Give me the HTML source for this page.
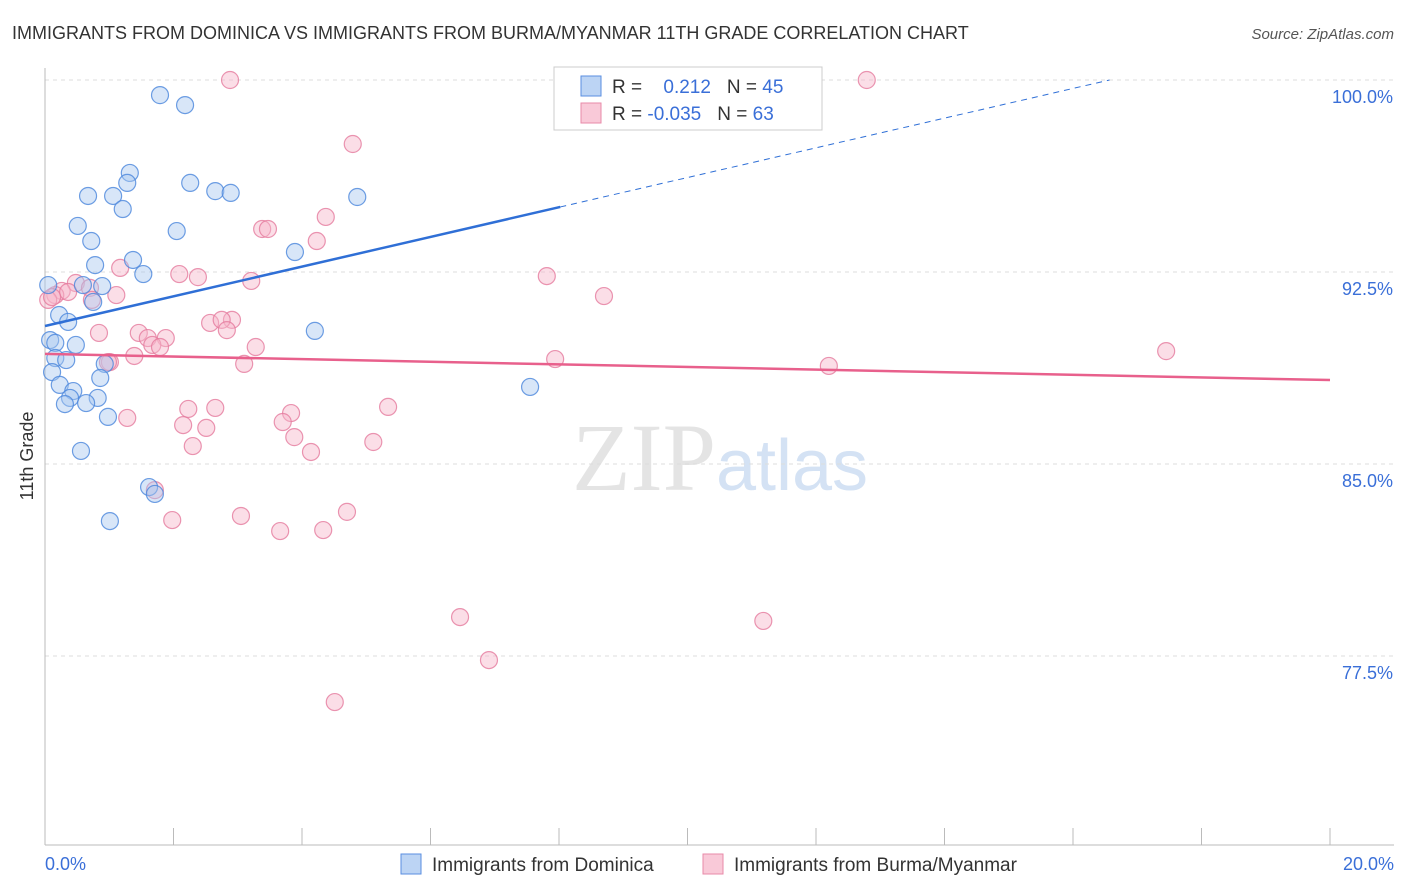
<!DOCTYPE html>
<html><head><meta charset="utf-8">
<style>
body{margin:0;background:#fff;font-family:"Liberation Sans",sans-serif;}
</style></head>
<body>
<svg id="chart" width="1406" height="892" xmlns="http://www.w3.org/2000/svg" style="display:block">
<text x="12" y="39" font-size="18" fill="#333">IMMIGRANTS FROM DOMINICA VS IMMIGRANTS FROM BURMA/MYANMAR 11TH GRADE CORRELATION CHART</text>
<text x="1394" y="39" font-size="15" fill="#555" text-anchor="end" font-style="italic">Source: ZipAtlas.com</text>
<text x="720" y="490" font-size="96" text-anchor="middle" fill="#e4e4e4" font-family="Liberation Serif, serif">ZIP<tspan fill="#d4e2f4" font-family="Liberation Sans, sans-serif" font-size="72">atlas</tspan></text>
<text transform="translate(33,456) rotate(-90)" font-size="18" fill="#333" text-anchor="middle">11th Grade</text>
<g id="grid"></g>
<g id="axes"></g>
<g id="marks"></g>
<g id="trends"></g>
<g>
<rect x="554" y="67" width="268" height="63" fill="#fff" stroke="#ccc"/>
<rect x="581" y="76" width="20" height="20" fill="#bcd4f4" stroke="#5a8ee0"/>
<rect x="581" y="103" width="20" height="20" fill="#f9c9d8" stroke="#e88aa8"/>
<text x="612" y="93" font-size="19" fill="#333">R = <tspan fill="#3a6fd8" dx="16">0.212</tspan><tspan dx="16" fill="#333">N = </tspan><tspan fill="#3a6fd8">45</tspan></text>
<text x="612" y="120" font-size="19" fill="#333">R = <tspan fill="#3a6fd8">-0.035</tspan><tspan dx="16" fill="#333">N = </tspan><tspan fill="#3a6fd8">63</tspan></text>
</g>
<g>
<rect x="401" y="854" width="20" height="20" fill="#bcd4f4" stroke="#5a8ee0"/>
<text x="432" y="871" font-size="19" fill="#333">Immigrants from Dominica</text>
<rect x="703" y="854" width="20" height="20" fill="#f9c9d8" stroke="#e88aa8"/>
<text x="734" y="871" font-size="19" fill="#333">Immigrants from Burma/Myanmar</text>
</g>
</svg>
<script>
const blueX=[1.79,2.18,1.32,1.28,2.26,2.65,2.89,0.67,1.06,1.21,4.86,0.51,2.05,0.72,3.89,1.37,0.78,1.53,0.05,0.59,0.89,0.75,0.22,0.36,4.20,0.08,0.16,0.48,0.16,0.33,0.93,0.11,0.86,0.23,0.44,0.82,0.39,0.64,0.31,0.98,7.55,0.56,1.62,1.71,1.01];
const blueY=[99.41,99.02,96.37,95.98,95.98,95.66,95.59,95.47,95.47,94.96,95.43,94.30,94.10,93.71,93.28,92.97,92.77,92.42,91.99,91.99,91.95,91.33,90.82,90.55,90.20,89.84,89.73,89.65,89.14,89.06,88.91,88.59,88.36,88.09,87.85,87.58,87.58,87.38,87.34,86.84,88.01,85.51,84.10,83.83,82.77];
const pinkX=[2.88,9.98,12.79,4.79,4.37,3.38,3.47,4.23,7.81,1.17,2.09,2.38,3.21,8.70,0.48,0.70,0.26,0.16,0.36,0.05,1.11,0.11,0.73,2.91,2.57,2.75,2.83,1.46,0.84,1.60,1.88,1.67,1.79,3.28,1.39,1.01,3.10,7.94,12.20,17.45,2.23,2.65,5.34,3.83,3.70,2.15,2.51,3.88,5.11,2.30,4.14,1.28,4.70,3.05,1.98,3.66,4.33,6.46,11.18,6.91,4.51,1.71,0.98];
const pinkY=[100,100,100,97.50,94.65,94.18,94.18,93.71,92.34,92.66,92.42,92.30,92.15,91.56,92.07,91.88,91.76,91.60,91.72,91.41,91.60,91.52,91.41,90.63,90.51,90.63,90.23,90.12,90.12,89.92,89.92,89.65,89.57,89.57,89.22,88.98,88.91,89.10,88.83,89.41,87.15,87.19,87.23,86.99,86.64,86.52,86.41,86.05,85.86,85.70,85.47,86.80,83.13,82.97,82.81,82.38,82.42,79.02,78.87,77.34,75.70,83.98,88.98];
const yTicks=[100,92.5,85,77.5];
const yTickLabels=["100.0%","92.5%","85.0%","77.5%"];
const xTicks=[0,2,4,6,8,10,12,14,16,18,20];
const blueTrend=[90.39,0.58]; // intercept, slope
const pinkTrend=[89.30,-0.051];
const NS='http://www.w3.org/2000/svg';
const X0=45,X1=1330,Y100=80,PXPER=25.6;
function sx(v){return X0+v/20*(X1-X0);}
function sy(v){return Y100+(100-v)*PXPER;}
function mk(tag,attrs,parent){const e=document.createElementNS(NS,tag);for(const k in attrs)e.setAttribute(k,attrs[k]);parent.appendChild(e);return e;}
const grid=document.getElementById('grid'),axes=document.getElementById('axes'),marks=document.getElementById('marks'),trends=document.getElementById('trends');
yTicks.forEach((t,i)=>{
  const l=mk('line',{x1:X0,x2:1394,y1:sy(t),y2:sy(t),stroke:'#ddd','stroke-dasharray':'4,4'},grid);
  
  
  const tx=mk('text',{x:1393,y:sy(t)+23,'font-size':18,fill:'#3a6fd8','text-anchor':'end'},axes);
  tx.textContent=yTickLabels[i];
  
  
});
const ya=mk('line',{x1:X0,x2:X0,y1:68,y2:845,stroke:'#bbb'},axes);


const xa=mk('line',{x1:X0,x2:1394,y1:845,y2:845,stroke:'#bbb'},axes);


xTicks.forEach(t=>{
  const l=mk('line',{x1:sx(t),x2:sx(t),y1:828,y2:845,stroke:'#bbb'},axes);
  
  
});
[[0,"0.0%","start",45],[20,"20.0%","end",1394]].forEach(d=>{
  const tx=mk('text',{x:d[3],y:870,'font-size':18,fill:'#3a6fd8','text-anchor':d[2]},axes);
  tx.textContent=d[1];
  
  
});
function pts(xs,ys,fill,stroke,name){
  xs.forEach((x,i)=>{
    const c=mk('circle',{cx:sx(x),cy:sy(ys[i]),r:8.5,fill:fill,'fill-opacity':0.45,stroke:stroke,'stroke-width':1.2,'stroke-opacity':0.8},marks);
    
    
  });
}
pts(pinkX,pinkY,'#f7b6ca','#e57a9e','point-burma');
pts(blueX,blueY,'#a9c8f0','#4a86dc','point-dominica');
const bEnd=8.02, bTop=(100-blueTrend[0])/blueTrend[1];
const b1=mk('line',{x1:sx(0),y1:sy(blueTrend[0]),x2:sx(bEnd),y2:sy(blueTrend[0]+blueTrend[1]*bEnd),stroke:'#2f6fd6','stroke-width':2.5},trends);


const b2=mk('line',{x1:sx(bEnd),y1:sy(blueTrend[0]+blueTrend[1]*bEnd),x2:sx(bTop),y2:sy(100),stroke:'#2f6fd6','stroke-width':1,'stroke-dasharray':'6,5'},trends);


const p1=mk('line',{x1:sx(0),y1:sy(pinkTrend[0]),x2:sx(20),y2:sy(pinkTrend[0]+pinkTrend[1]*20),stroke:'#e8608c','stroke-width':2.5},trends);


</script>
</body></html>
